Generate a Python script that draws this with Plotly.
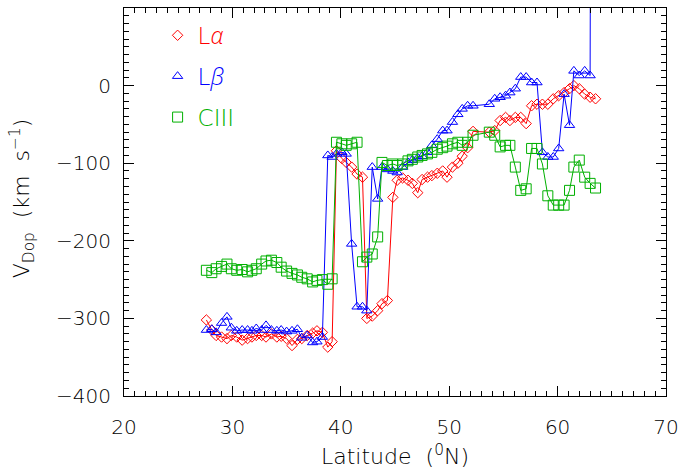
import plotly.graph_objects as go

# Latitude grid (degrees N); two latitudes are missing near 53 N
LAT_PRE = [27.6, 28.1, 28.5, 29.0, 29.5, 29.9, 30.4, 30.9, 31.4, 31.8,
           32.2, 32.7, 33.1, 33.6, 34.1, 34.5, 35.0, 35.5, 36.0, 36.4,
           36.9, 37.4, 37.8, 38.3, 38.8, 39.2, 39.6, 40.1, 40.5, 41.0,
           41.5, 42.0, 42.4, 42.9, 43.4, 43.8, 44.3, 44.8, 45.2, 45.7,
           46.2, 46.6, 47.1, 47.5, 48.0, 48.4, 48.9, 49.4, 49.8, 50.3,
           50.8, 51.2, 51.7, 52.2]
LAT_POST = [53.7, 54.2, 54.7, 55.2, 55.6, 56.1, 56.6, 57.1, 57.6, 58.1,
            58.6, 59.1, 59.6, 60.1, 60.6, 61.1, 61.5, 62.0, 62.5, 63.0, 63.5]

LYA_PRE = [-302, -315, -322, -324, -326, -322, -324, -328, -326, -324,
           -322, -322, -324, -320, -324, -323, -326, -335, -327, -326,
           -322, -319, -316, -318, -337, -330, -84, -94, -99, -105,
           -114, -118, -300, -297, -290, -281, -277, -144, -122, -119,
           -122, -126, -138, -121, -118, -116, -113, -110, -118, -105,
           -100, -91, -80, -59]
LYA_POST = [-60, -58, -45, -41, -45, -41, -41, -49, -26, -24,
            -24, -24, -17, -13, -9, -4, 0, -4, -11, -15, -17]

LYB_PRE = [-315, -314, -318, -306, -298, -312, -316, -315, -315, -316,
           -313, -315, -309, -315, -316, -315, -317, -316, -314, -325,
           -322, -331, -330, -324, -90, -92, -88, -86, -88, -204,
           -285, -285, -290, -105, -146, -105, -108, -110, -112, -105,
           -99, -96, -93, -91, -86, -77, -69, -58, -58, -47,
           -37, -30, -26, -26]
LYB_POST = [-24, -17, -15, -13, -9, -4, 11, 11, 4, 4,
            -86, -92, -92, -81, -11, -51, 19, 13, 19, 13, 3000]

CIII_PRE = [-238, -241, -236, -233, -230, -236, -238, -237, -240, -238,
            -236, -230, -226, -225, -228, -234, -239, -242, -244, -247,
            -249, -253, -251, -250, -256, -249, -73, -75, -77, -75,
            -73, -227, -221, -217, -195, -99, -103, -101, -103, -101,
            -97, -95, -92, -90, -88, -86, -82, -80, -78, -75,
            -73, -77, -73, -64]
CIII_POST = [-60, -64, -79, -77, -77, -105, -135, -133, -81, -81,
             -101, -142, -154, -154, -154, -135, -105, -96, -118, -126, -132]

LAT = LAT_PRE + LAT_POST
GREEK = "<span style=\"font-family:'Open Sans';font-style:italic;font-weight:300\">%s</span>"
SERIES = [
    ("Lα", "L" + GREEK % "α", LYA_PRE + LYA_POST, "#ff0000", "diamond-open", 8),
    ("Lβ", "L" + GREEK % "β", LYB_PRE + LYB_POST, "#0000ff", "triangle-up-open", 9),
    ("CIII", "CIII", CIII_PRE + CIII_POST, "#00b000", "square-open", 10),
]

FONT = "DejaVu Sans"
TXT = "#000"
fig = go.Figure()
for key, label, vals, col, sym, sz in SERIES:
    fig.add_trace(go.Scatter(
        x=LAT, y=vals, mode="lines+markers", showlegend=False,
        line=dict(color=col, width=1),
        marker=dict(symbol=sym, size=sz, color=col, line=dict(width=1, color=col)),
        cliponaxis=True,
    ))
for i, (key, label, vals, col, sym, sz) in enumerate(SERIES):
    fig.add_trace(go.Scatter(
        x=[None], y=[None], mode="markers", legendgroup=key,
        name='<span style="color:%s">%s</span>' % (col, label),
        marker=dict(symbol=sym, size=sz, color=col, line=dict(width=1, color=col)),
    ))

axis_common = dict(
    showgrid=False, zeroline=False, showline=True, linecolor="black", linewidth=1,
    mirror="allticks", ticks="inside", ticklen=10, tickwidth=1, tickcolor="black",
    tickfont=dict(family=FONT, size=20, color=TXT, weight=200),
)
fig.update_xaxes(range=[20, 70], dtick=10, tick0=20,
                 minor=dict(dtick=1, ticks="inside", ticklen=5, tickcolor="black", tickwidth=1),
                 ticklabelstandoff=13, **axis_common)
fig.update_yaxes(range=[-400, 100], dtick=100, tick0=0,
                 minor=dict(dtick=10, ticks="inside", ticklen=5, tickcolor="black", tickwidth=1),
                 ticklabelstandoff=8, **axis_common)

fig.add_annotation(text="Latitude  (<sup>0</sup>N)", xref="paper", yref="paper",
                   x=0.5, y=-0.152, xanchor="center", yanchor="middle", showarrow=False,
                   font=dict(family=FONT, size=22, color=TXT, weight=200))
fig.add_annotation(text="V<sub>Dop</sub>  (km  s<sup>−1</sup>)", xref="paper", yref="paper",
                   x=-0.188, y=0.51, xanchor="center", yanchor="middle", textangle=-90,
                   showarrow=False, font=dict(family=FONT, size=22, color=TXT, weight=200))

fig.update_layout(
    width=686, height=471,
    margin=dict(l=124, r=16, t=7, b=75),
    plot_bgcolor="white", paper_bgcolor="white",
    showlegend=True,
    legend=dict(x=0.062, y=0.985, xanchor="left", yanchor="top",
                bgcolor="rgba(0,0,0,0)", font=dict(family=FONT, size=23, weight=200),
                tracegroupgap=8, itemwidth=30),
)
fig.write_html("out.html")
